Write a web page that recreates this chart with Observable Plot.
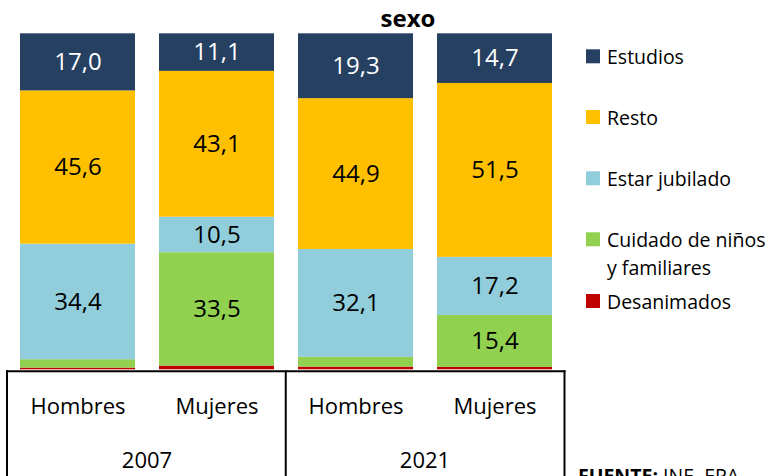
<!DOCTYPE html>
<html>
<head>
<meta charset="utf-8">
<script src="https://cdn.jsdelivr.net/npm/d3@7"></script>
<script src="https://cdn.jsdelivr.net/npm/@observablehq/plot@0.6"></script>
<style>
  html, body { margin: 0; padding: 0; background: #fff; }
  #chart { width: 779px; height: 476px; overflow: hidden; position: relative; }
</style>
</head>
<body>
<div id="chart"></div>
<script>
// Categories
const years = ["2007", "2007", "2021", "2021"];
const sexes = ["Hombres", "Mujeres", "Hombres", "Mujeres"];
// Series (bottom to top)
const series = ["Desanimados", "Cuidado de niños y familiares", "Estar jubilado", "Resto", "Estudios"];
const seriesColors = ["#C00000", "#92D050", "#92CDDC", "#FFC000", "#254061"];
// Values (%)
const desanimados = [0.5, 1.1, 0.8, 0.7];
const cuidado = [2.5, 33.5, 2.9, 15.4];
const jubilado = [34.4, 10.5, 32.1, 17.2];
const resto = [45.6, 43.1, 44.9, 51.5];
const estudios = [17.0, 11.1, 19.3, 14.7];
// Legend order (top to bottom)
const legendOrder = ["Estudios", "Resto", "Estar jubilado", "Cuidado de niños y familiares", "Desanimados"];
const legendLines = {
  "Estudios": ["Estudios"],
  "Resto": ["Resto"],
  "Estar jubilado": ["Estar jubilado"],
  "Cuidado de niños y familiares": ["Cuidado de niños", "y familiares"],
  "Desanimados": ["Desanimados"]
};
const chartTitle = "sexo";
const sourceBold = "FUENTE:";
const sourceText = " INE. EPA";

const keys = years.map((y, i) => y + "|" + sexes[i]);
const valuesBySeries = [desanimados, cuidado, jubilado, resto, estudios];
const data = [];
series.forEach((s, si) => {
  keys.forEach((k, i) => data.push({key: k, year: years[i], sex: sexes[i], series: s, value: valuesBySeries[si][i]}));
});

const fmt = v => v.toFixed(1).replace(".", ",");
const FONT = "'Open Sans', sans-serif";

const plot = Plot.plot({
  width: 779,
  height: 476,
  marginLeft: 6,
  marginRight: 213.5,
  marginTop: 33.3,
  marginBottom: 106.7,
  style: {fontFamily: FONT, fontSize: "22px", color: "#000", background: "#fff", overflow: "visible"},
  x: {domain: keys, paddingInner: 0.174, paddingOuter: 0.087, tickSize: 0, tickPadding: 29,
      tickFormat: k => k.split("|")[1], label: null},
  y: {domain: [0, 1], axis: null},
  color: {domain: series, range: seriesColors},
  marks: [
    Plot.barY(data, Plot.stackY({x: "key", y: "value", fill: "series", z: "series", offset: "normalize"})),
    Plot.text(data, Plot.stackY({
      x: "key", y: "value", z: "series", offset: "normalize",
      text: d => d.value > 5 ? fmt(d.value) : "",
      fill: d => d.series === "Estudios" ? "#fff" : "#000",
      fontSize: 24
    }))
  ]
});

document.getElementById("chart").appendChild(plot);

// Decorations using the plot's scales
const svg = d3.select(plot);
const xs = plot.scale("x");
const ys = plot.scale("y");
const r0 = xs.range[0], r1 = xs.range[1];
const base = ys.apply(0);
const lineY = base + 2;
const g = svg.append("g").attr("stroke", "#000").attr("stroke-width", 2);
g.append("line").attr("x1", r0).attr("x2", r1).attr("y1", lineY).attr("y2", lineY);
[r0 + 1, (r0 + r1) / 2, r1 - 1].forEach(x => {
  g.append("line").attr("x1", x).attr("x2", x).attr("y1", lineY - 1).attr("y2", 476);
});

// Year labels centered under each pair of bars
const bw = xs.bandwidth;
Array.from(new Set(years)).forEach(yr => {
  const ks = keys.filter(k => k.startsWith(yr + "|"));
  const starts = ks.map(k => xs.apply(k));
  const cx = (Math.min(...starts) + Math.max(...starts) + bw) / 2;
  svg.append("text").attr("x", cx).attr("y", 468).attr("text-anchor", "middle")
    .attr("font-family", FONT).attr("font-size", 22).attr("fill", "#000").text(yr);
});

// Title
svg.append("text").attr("x", 408).attr("y", 26.7).attr("text-anchor", "middle")
  .attr("font-family", FONT).attr("font-size", 24).attr("font-weight", "bold").attr("fill", "#000").text(chartTitle);

// Legend
const legendTops = [49.3, 110, 171.3, 232.3, 294];
const lg = svg.append("g").attr("font-family", FONT).attr("font-size", 19.5).attr("fill", "#000")
  .attr("text-anchor", "start");
legendOrder.forEach((s, i) => {
  const top = legendTops[i];
  lg.append("rect").attr("x", 586).attr("y", top).attr("width", 14).attr("height", 14)
    .attr("fill", seriesColors[series.indexOf(s)]);
  legendLines[s].forEach((line, j) => {
    lg.append("text").attr("x", 607).attr("y", top + 14.5 + j * 28.5).attr("text-anchor", "start").text(line);
  });
});

// Source (cut at the bottom edge, as in the reference)
const st = svg.append("text").attr("x", 578).attr("y", 483).attr("font-family", FONT)
  .attr("font-size", 19.5).attr("fill", "#000").attr("text-anchor", "start");
st.append("tspan").attr("font-weight", "bold").text(sourceBold);
st.append("tspan").text(sourceText);
</script>
</body>
</html>
